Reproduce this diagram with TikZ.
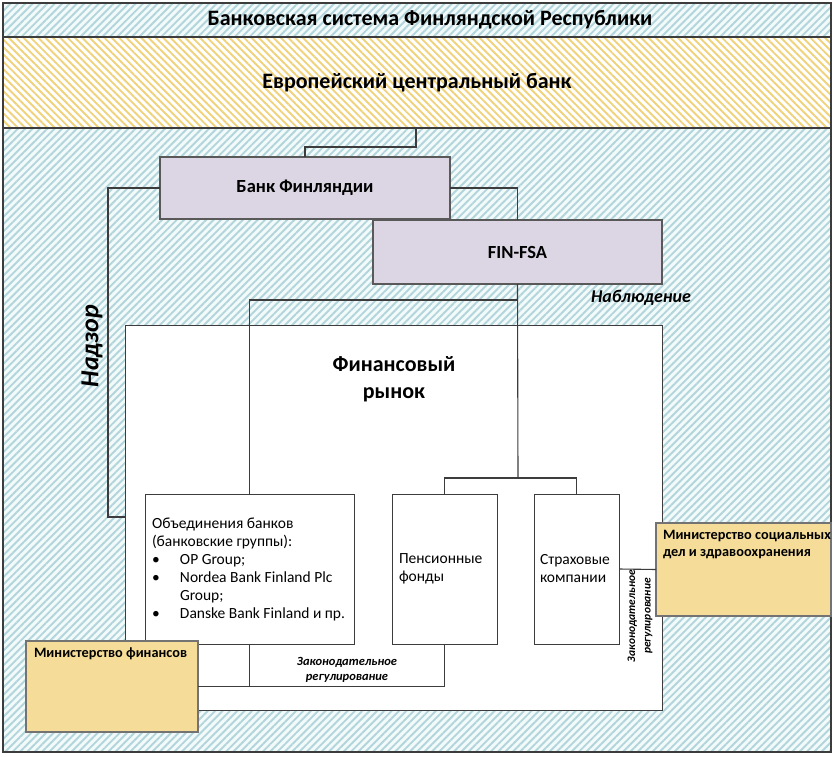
\documentclass[tikz,border=0pt]{standalone}
\usepackage{fontspec}
\setmainfont{Carlito}
\usetikzlibrary{patterns.meta}
\definecolor{hatchblue}{HTML}{B2D5DC}
\definecolor{bgblue}{HTML}{F2FAFA}
\definecolor{hatchyel}{HTML}{F0D27A}
\definecolor{lav}{HTML}{DCD6E4}
\definecolor{tanc}{HTML}{F5DC98}
\definecolor{lnc}{HTML}{3C3C3C}
\begin{document}
\begin{tikzpicture}[x=1pt,y=-1pt,
  every node/.style={outer sep=0pt},
  corebox/.style={draw=lnc, line width=1pt, rectangle, inner sep=0pt, anchor=north west},
  lavbox/.style={corebox, fill=lav, draw=black!65, line width=1.3pt, font=\bfseries\fontsize{18.5}{22}\selectfont},
  whitebox/.style={corebox, fill=white},
  bodytext/.style={anchor=west, inner sep=0pt, align=left, font=\fontsize{15.5}{18}\selectfont},
  minbox/.style={corebox, fill=tanc, draw=black!55, line width=1.2pt},
  mintext/.style={anchor=north west, inner sep=0pt, align=left, font=\bfseries\fontsize{14.3}{17.5}\selectfont},
  conn/.style={draw=lnc, line width=1.1pt},
  lawtext/.style={align=center, inner sep=0pt, font=\bfseries\itshape\fontsize{12.5}{15.5}\selectfont},
]
\useasboundingbox (0,0) rectangle (835,757);
% outer frame with blue hatching
\fill[bgblue] (3,3) rectangle (831,752);
\fill[pattern={Lines[angle=45,distance=5.2pt,line width=1.9pt]}, pattern color=hatchblue] (3,3) rectangle (831,752);
\draw[lnc, line width=1.2pt] (3,3) rectangle (831,752);
\node[font=\bfseries\fontsize{22}{24}\selectfont] (title) at (430,20) {Банковская система Финляндской Республики};
% ECB band
\node[corebox, minimum width=828pt, minimum height=91pt, fill=white, draw=none] (ecbbg) at (3,37) {};
\node[corebox, minimum width=828pt, minimum height=91pt, line width=1.2pt,
  pattern={Lines[angle=-45,distance=5.2pt,line width=1.9pt]}, pattern color=hatchyel,
  font=\bfseries\fontsize{22}{24}\selectfont] (ecb) at (3,37) {Европейский центральный банк};
% financial market box
\node[corebox, fill=white, minimum width=537pt, minimum height=385pt] (fin) at (125,325) {};
\node[align=center, font=\bfseries\fontsize{22}{27}\selectfont] (fintext) at (394,379) {Финансовый\\рынок};
% regulators
\node[lavbox, minimum width=289pt, minimum height=64pt] (fsa) at (373,220) {FIN-FSA};
\node[lavbox, minimum width=290pt, minimum height=62pt] (bof) at (160,157) {Банк Финляндии};
% market participants
\node[whitebox, minimum width=209pt, minimum height=150pt] (banks) at (145,494) {};
\node[bodytext] (bankst) at (152,569)
  {Объединения банков\\(банковские группы):\\
   \makebox[28pt][l]{\textbullet}OP Group;\\
   \makebox[28pt][l]{\textbullet}Nordea Bank Finland Plc\\
   \hspace*{28pt}Group;\\
   \makebox[28pt][l]{\textbullet}Danske Bank Finland и пр.};
\node[whitebox, minimum width=105pt, minimum height=150pt] (pens) at (392,494) {};
\node[bodytext] (penst) at (399,569) {Пенсионные\\фонды};
\node[whitebox, minimum width=85pt, minimum height=150pt] (ins) at (534,494) {};
\node[bodytext] (inst) at (540,569) {Страховые\\компании};
% ministries
\node[minbox, minimum width=172pt, minimum height=91pt] (mof) at (26,641) {};
\node[mintext] (moft) at (34,648) {Министерство финансов};
\node[minbox, minimum width=175pt, minimum height=93pt] (mosa) at (656,523) {};
\node[mintext] (mosat) at (663,530) {Министерство социальных\\дел и здравоохранения};
% connectors
\coordinate (ecbdrop) at (416,128);
\coordinate (j) at (518,478);
\draw[conn] (ecbdrop) -- (416,147) -| (bof.north);
\draw[conn] (bof.west) -- (108,188) |- (fin.west |- 0,517);
\draw[conn] (bof.east) -| (fsa.north);
\draw[conn] (fsa.south) -- (j);
\draw[conn] (banks.north) |- (fsa.south |- 0,300);
\draw[conn] (pens.north) |- (j) -| (ins.north);
\draw[conn] (mof.east) -| (pens.south);
\draw[conn] (banks.south) -- (banks.south |- mof.east);
\draw[conn] (ins.east) -- (mosa.west);
% labels
\node[rotate=90, font=\bfseries\itshape\fontsize{26}{28}\selectfont] (nadzor) at (92,346) {Надзор};
\node[font=\bfseries\itshape\fontsize{18}{20}\selectfont] (nabl) at (641,298) {Наблюдение};
\node[lawtext] (law1) at (347,670) {Законодательное\\регулирование};
\node[lawtext, rotate=90, font=\bfseries\itshape\fontsize{11.5}{15.5}\selectfont] (law2) at (640,616) {Законодательное\\регулирование};
\end{tikzpicture}
\end{document}
